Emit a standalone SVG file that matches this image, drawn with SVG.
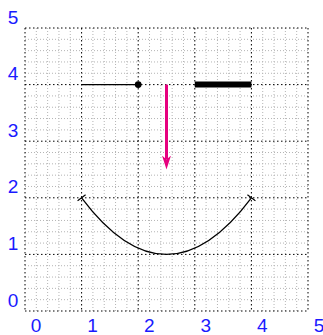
<svg xmlns="http://www.w3.org/2000/svg" width="323" height="335" viewBox="0 0 323 335">
<style>
.minor{stroke:#b4b4b4;stroke-width:1;stroke-dasharray:1 2;fill:none}
.major{stroke:#000;stroke-width:1;stroke-dasharray:1.5 2.5;fill:none}
.lbl{font-family:"Liberation Sans",Arial,sans-serif;font-size:19px;fill:#1a1aff;text-anchor:middle}
.blk{stroke:#000;fill:none}
</style>
<defs>
<marker id="stealth" markerUnits="userSpaceOnUse" viewBox="0 0 14 9" refX="4" refY="4.5" markerWidth="14" markerHeight="9" orient="auto">
<path d="M0,0 L14,4.5 L0,9 L4,4.5 z" fill="#e6007e"/>
</marker>
<marker id="bar" markerUnits="userSpaceOnUse" viewBox="-1 -6 2 12" refX="0" refY="0" markerWidth="2" markerHeight="12" orient="auto">
<path d="M0,-5 V5" stroke="#000" stroke-width="1.2"/>
</marker>
</defs>
<rect width="323" height="335" fill="#fff"/>
<g id="grid">
<path class="minor" d="M36.32,28V311M47.64,28V311M58.96,28V311M70.28,28V311M92.92,28V311M104.24,28V311M115.56,28V311M126.88,28V311M149.52,28V311M160.84,28V311M172.16,28V311M183.48,28V311M206.12,28V311M217.44,28V311M228.76,28V311M240.08,28V311M262.72,28V311M274.04,28V311M285.36,28V311M296.68,28V311M25,299.68H308M25,288.36H308M25,277.04H308M25,265.72H308M25,243.08H308M25,231.76H308M25,220.44H308M25,209.12H308M25,186.48H308M25,175.16H308M25,163.84H308M25,152.52H308M25,129.88H308M25,118.56H308M25,107.24H308M25,95.92H308M25,73.28H308M25,61.96H308M25,50.64H308M25,39.32H308"/>
<path class="major" d="M25,28V311M81.6,28V311M138.2,28V311M194.8,28V311M251.4,28V311M308,28V311M25,28H308M25,84.6H308M25,141.2H308M25,197.8H308M25,254.4H308M25,311H308"/>
</g>
<g id="labels">
<text class="lbl" x="13" y="23.5">5</text>
<text class="lbl" x="13" y="80.1">4</text>
<text class="lbl" x="13" y="136.7">3</text>
<text class="lbl" x="13" y="193.3">2</text>
<text class="lbl" x="13" y="249.9">1</text>
<text class="lbl" x="13" y="306.5">0</text>
<text class="lbl" x="36" y="332">0</text>
<text class="lbl" x="92.6" y="332">1</text>
<text class="lbl" x="149.2" y="332">2</text>
<text class="lbl" x="205.8" y="332">3</text>
<text class="lbl" x="262.4" y="332">4</text>
<text class="lbl" x="319" y="332">5</text>
</g>
<g id="thin-line">
<line class="blk" x1="81.6" y1="84.6" x2="138.2" y2="84.6" stroke-width="1.3"/>
<circle cx="138.2" cy="84.6" r="3.4" fill="#000"/>
</g>
<g id="thick-line">
<line class="blk" x1="194.8" y1="84.6" x2="251.4" y2="84.6" stroke-width="6"/>
</g>
<g id="connectors">
<line x1="166.5" y1="84.6" x2="166.5" y2="159.5" stroke="#e6007e" stroke-width="3" marker-end="url(#stealth)"/>
<path class="blk" d="M81.6,197.8 Q166.5,311 251.4,197.8" stroke-width="1.3" marker-start="url(#bar)" marker-end="url(#bar)"/>
</g>
</svg>
